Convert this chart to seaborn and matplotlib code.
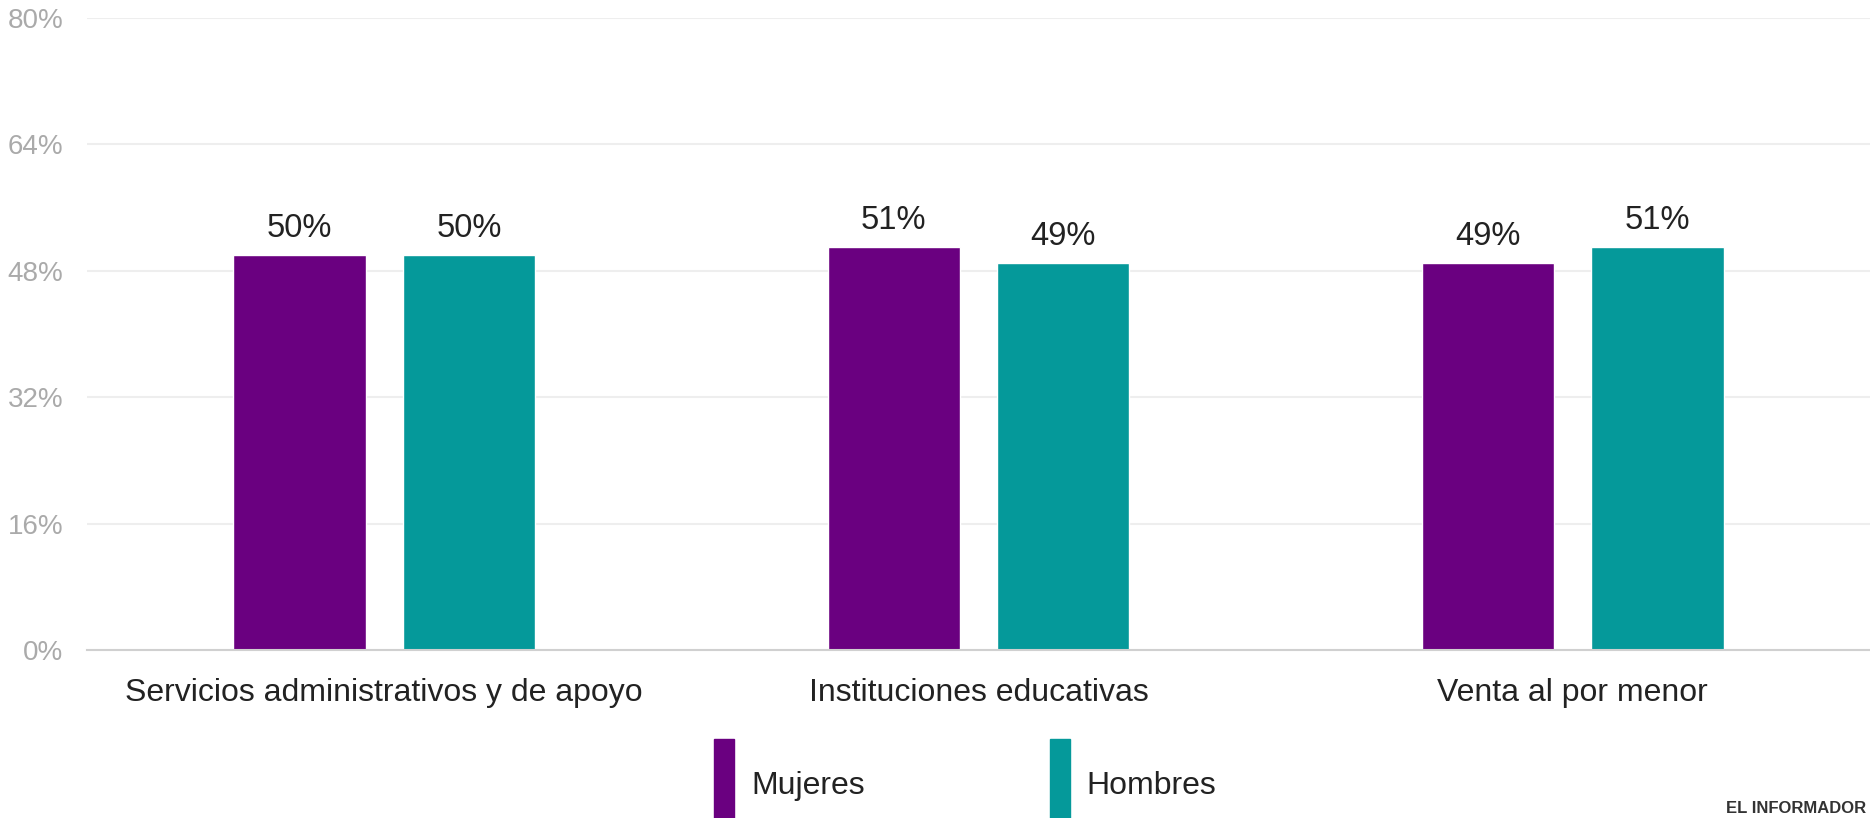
import numpy as np
import pandas as pd
import seaborn as sns
import matplotlib.pyplot as plt

# data
categorias = ["Servicios administrativos y de apoyo", "Instituciones educativas", "Venta al por menor"]
mujeres = [50, 51, 49]
hombres = [50, 49, 51]
series = ["Mujeres", "Hombres"]
colores = ["#6a0080", "#05999a"]
yticks = [0, 16, 32, 48, 64, 80]

df = pd.DataFrame({
    "categoria": categorias * 2,
    "valor": mujeres + hombres,
    "sexo": [series[0]] * 3 + [series[1]] * 3,
})

sns.set_theme(style="white")
plt.rcParams["font.family"] = ["Liberation Sans", "DejaVu Sans"]

fig = plt.figure(figsize=(18.7, 8.18), dpi=100)
ax = fig.add_axes([87 / 1870, 168 / 818, 1 - 87 / 1870, 632 / 818])

sns.barplot(data=df, x="categoria", y="valor", hue="sexo", palette=colores,
            width=0.57, gap=0.22, ax=ax, legend=False, saturation=1)

for c in ax.containers:
    ax.bar_label(c, fmt="%.0f%%", padding=8, fontsize=23.5, color="#222222")

ax.set_xlim(-0.5, 2.5)
ax.set_ylim(0, 80)
ax.set_yticks(yticks)
ax.set_yticklabels([f"{t}%" for t in yticks], color="#aaaaaa", fontsize=20)
ax.tick_params(axis="y", length=0, pad=17)
ax.tick_params(axis="x", length=0, pad=20, labelsize=23, labelcolor="#222222")
ax.set_xlabel("")
ax.set_ylabel("")
ax.yaxis.grid(True, color="#eeeeee", linewidth=1.5)
ax.set_axisbelow(True)
for s in ["top", "right", "left"]:
    ax.spines[s].set_visible(False)
ax.spines["bottom"].set_color("#d0d0d0")
ax.spines["bottom"].set_linewidth(1.5)

# legend with tall narrow handles
handles = [plt.Rectangle((0, 0), 1, 1, color=c) for c in colores]
fig.legend(handles, series, loc="upper left", bbox_to_anchor=(711 / 1870, 1 - 736 / 818),
           ncol=2, frameon=False, fontsize=23, handlelength=0.63, handleheight=4.1,
           handletextpad=0.52, columnspacing=5.8, borderaxespad=0, borderpad=0.1,
           labelcolor="#222222")

fig.text(1866 / 1870, 2 / 818, "EL INFORMADOR", fontsize=12, fontweight="bold",
         color="#333333", va="bottom", ha="right")

fig.savefig("out.png", dpi=100)
